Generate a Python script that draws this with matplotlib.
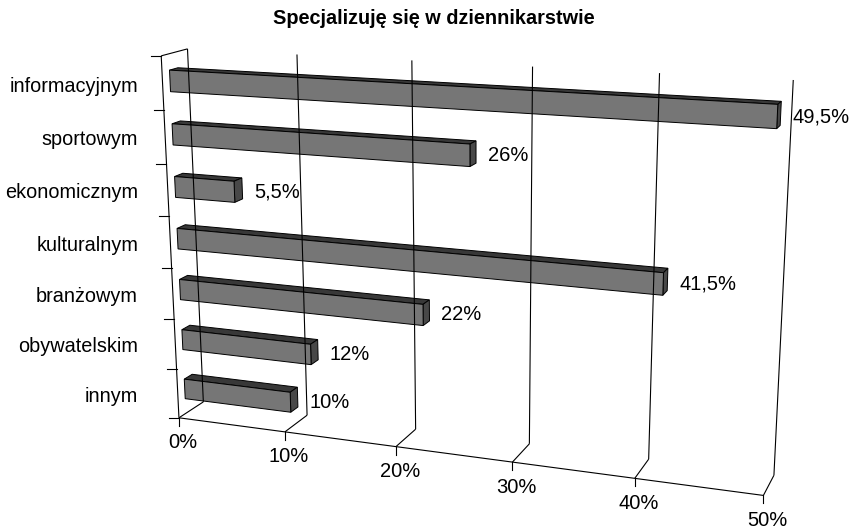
import numpy as np
import matplotlib.pyplot as plt
from matplotlib.patches import Polygon

categories = ['informacyjnym', 'sportowym', 'ekonomicznym', 'kulturalnym',
              'branżowym', 'obywatelskim', 'innym']
values = [49.5, 26, 5.5, 41.5, 22, 12, 10]
value_labels = ['49,5%', '26%', '5,5%', '41,5%', '22%', '12%', '10%']
x_ticks = [0, 10, 20, 30, 40, 50]
x_tick_labels = ['0%', '10%', '20%', '30%', '40%', '50%']
title = 'Specjalizuję się w dziennikarstwie'

W, H = 858, 531
x_max = 50
n = len(categories)

# plot box corners: (value, category position, depth) -> figure pixels
box_corners = [
    ((0, 0, 0), (178.3, 417.7)),
    ((0, n, 0), (162.0, 55.7)),
    ((0, n, 1), (186.7, 49.0)),
    ((0, 0, 1), (204.0, 402.0)),
    ((x_max, 0, 0), (763.3, 495.7)),
    ((x_max, 0, 1), (774.0, 475.0)),
    ((x_max, n, 1), (793.3, 80.0)),
]


def norm_world(p):
    return [p[0] / x_max, p[1] / n, p[2], 1.0]


# perspective camera (3x4) solved with DLT on the box corners
rows = []
for world, (u, v) in box_corners:
    q = norm_world(world)
    u, v = (u - 430) / 400, (v - 270) / 400
    rows.append(q + [0, 0, 0, 0] + [-u * c for c in q])
    rows.append([0, 0, 0, 0] + q + [-v * c for c in q])
_, _, vt = np.linalg.svd(np.array(rows))
P = vt[-1].reshape(3, 4)


def proj(x, y, z):
    w = P @ np.array(norm_world((x, y, z)))
    return w[0] / w[2] * 400 + 430, w[1] / w[2] * 400 + 270


def line(a, b, **kw):
    pa, pb = proj(*a), proj(*b)
    ax.plot([pa[0], pb[0]], [pa[1], pb[1]], color='black', lw=0.8,
            solid_capstyle='butt', **kw)


plt.rcParams['font.family'] = ['Liberation Sans', 'DejaVu Sans']
fig = plt.figure(figsize=(W / 100, H / 100), dpi=100)
ax = fig.add_axes([0, 0, 1, 1])
ax.set_xlim(0, W)
ax.set_ylim(H, 0)
ax.axis('off')

# walls and floor
for xt in x_ticks:
    line((xt, 0, 1), (xt, n, 1))
    line((xt, 0, 0), (xt, 0, 1))
line((0, 0, 0), (0, n, 0))
line((0, n, 0), (0, n, 1))
line((0, 0, 0), (x_max, 0, 0))

# tick marks
for k in range(n + 1):
    px, py = proj(0, k, 0)
    ax.plot([px - 10, px], [py, py], color='black', lw=0.8)
for xt, lab in zip(x_ticks, x_tick_labels):
    px, py = proj(xt, 0, 0)
    ax.plot([px, px], [py, py + 8], color='black', lw=0.8)
    ax.text(px + 4, py + 25, lab, ha='center', va='center', fontsize=14.5)

# bars
zf, zb = 0.28, 0.6
half = 0.2
for i, (cat, val, lab) in enumerate(zip(categories, values, value_labels)):
    yc = n - i - 0.5
    y0, y1 = yc - half, yc + half
    front = [proj(0, y0, zf), proj(val, y0, zf), proj(val, y1, zf), proj(0, y1, zf)]
    top = [proj(0, y1, zf), proj(val, y1, zf), proj(val, y1, zb), proj(0, y1, zb)]
    side = [proj(val, y0, zf), proj(val, y0, zb), proj(val, y1, zb), proj(val, y1, zf)]
    ax.add_patch(Polygon(top, closed=True, fc='#383838', ec='black', lw=0.7))
    ax.add_patch(Polygon(side, closed=True, fc='#484848', ec='black', lw=0.7))
    ax.add_patch(Polygon(front, closed=True, fc='#767676', ec='black', lw=0.7))

    lx = proj(val, yc, zb)[0] + 12
    ly = proj(val, yc, zf)[1]
    ax.text(lx, ly, lab, ha='left', va='center', fontsize=14.5)

    cy = proj(0, yc, 0)[1]
    ax.text(138, cy + 3, cat, ha='right', va='center', fontsize=14.3)

ax.text(434, 19, title, ha='center', va='center', fontsize=14.3,
        fontweight='bold')

fig.savefig('out.png', dpi=100)
